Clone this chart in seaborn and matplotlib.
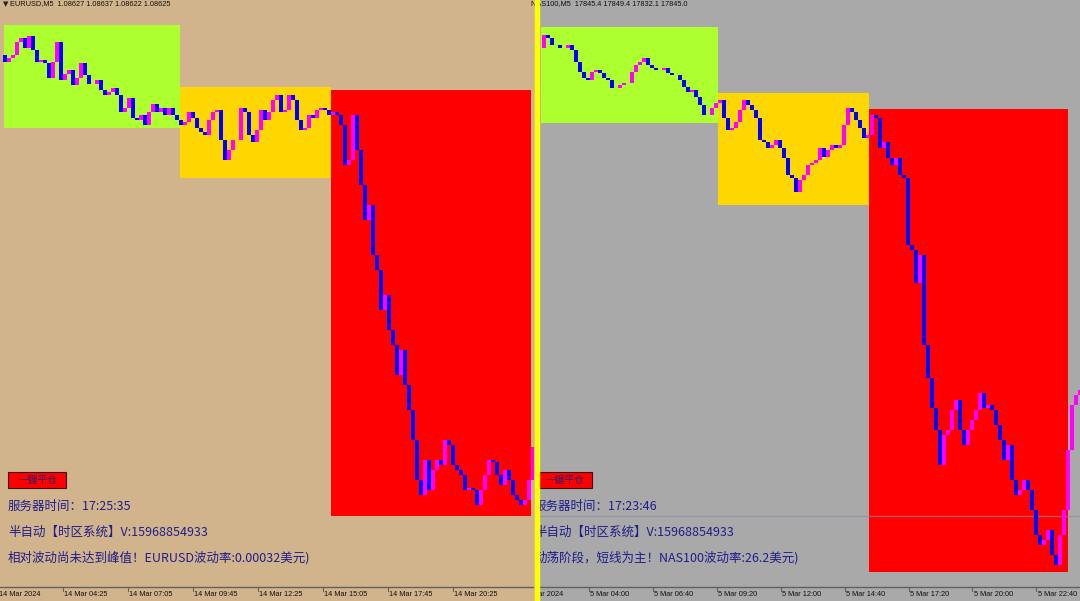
import numpy as np
import seaborn as sns
import matplotlib.pyplot as plt
from matplotlib.patches import Rectangle
from matplotlib.transforms import blended_transform_factory

sns.set_theme(style='white')
plt.rcParams['font.family'] = ['Noto Sans CJK SC', 'DejaVu Sans']

# EURUSD M5 closes (one value per candle)
eur_close = [1.09410, 1.09396, 1.09404, 1.09410, 1.09436, 1.09444, 1.09424, 1.09448, 1.09420, 1.09396,
             1.09400, 1.09394, 1.09364, 1.09396, 1.09436, 1.09360, 1.09372, 1.09380, 1.09350, 1.09364,
             1.09394, 1.09370, 1.09352, 1.09352, 1.09360, 1.09340, 1.09330, 1.09336, 1.09344, 1.09330,
             1.09296, 1.09304, 1.09324, 1.09284, 1.09280, 1.09290, 1.09270, 1.09296, 1.09312, 1.09296,
             1.09304, 1.09290, 1.09304, 1.09290, 1.09280, 1.09270,
             1.09276, 1.09296, 1.09284, 1.09264, 1.09256, 1.09250, 1.09280, 1.09296, 1.09300, 1.09240,
             1.09200, 1.09220, 1.09240, 1.09240, 1.09304, 1.09296, 1.09250, 1.09236, 1.09260, 1.09300,
             1.09280, 1.09296,
             1.09320, 1.09330, 1.09296, 1.09300, 1.09330, 1.09320, 1.09280, 1.09260, 1.09264, 1.09290,
             1.09284, 1.09300, 1.09304, 1.09300, 1.09290, 1.09296, 1.09290, 1.09270, 1.09190, 1.09200,
             1.09290, 1.09220, 1.09150, 1.09080, 1.09110, 1.09010, 1.08980, 1.08900, 1.08930, 1.08860,
             1.08830, 1.08770, 1.08820, 1.08750, 1.08700, 1.08640, 1.08560, 1.08530, 1.08600, 1.08540,
             1.08580, 1.08600, 1.08590, 1.08640, 1.08630, 1.08590, 1.08580, 1.08570, 1.08540, 1.08544,
             1.08540, 1.08510, 1.08540, 1.08570, 1.08600, 1.08596, 1.08570, 1.08550, 1.08580, 1.08560,
             1.08530, 1.08520, 1.08510, 1.08520, 1.08560, 1.08625]

# NAS100 M5 closes
nas_close = [18187, 18200, 18197, 18190, 18190, 18187, 18187, 18190, 18185, 18173,
             18163, 18157, 18155, 18163, 18165, 18162, 18157, 18155, 18147, 18147,
             18150, 18152, 18152, 18163, 18170, 18173, 18177, 18170, 18167, 18165,
             18165, 18167, 18162, 18160, 18160, 18155, 18148, 18143, 18145, 18138,
             18130, 18120, 18120, 18127, 18132, 18135, 18117, 18105, 18107, 18113,
             18125, 18135, 18130, 18125, 18117, 18095, 18093, 18087, 18090, 18095,
             18087, 18077, 18060, 18057, 18043, 18055, 18060, 18070, 18072, 18075,
             18087, 18078, 18085, 18090, 18087, 18090, 18110, 18127, 18123, 18115,
             18107, 18097, 18100, 18120, 18117, 18087, 18093, 18077, 18070, 18077,
             18060, 18057, 17990, 17985, 17952, 17980, 17890, 17857, 17827, 17805,
             17770, 17800, 17805, 17825, 17835, 17805, 17790, 17805, 17815, 17825,
             17842, 17827, 17830, 17825, 17810, 17795, 17775, 17790, 17755, 17740,
             17745, 17755, 17745, 17725, 17700, 17690, 17695, 17705, 17680, 17670,
             17700, 17725, 17785, 17830, 17840, 17845]

# time-zone boxes: start bar, end bar, top price, bottom price
eur_zone_start = [0.75, 44.75, 82.5]
eur_zone_end = [44.75, 82.5, 132.5]
eur_zone_top = [1.09470, 1.09346, 1.09340]
eur_zone_bot = [1.09264, 1.09164, 1.08488]
nas_zone_start = [0.25, 44.5, 82.25]
nas_zone_end = [44.5, 82.25, 132.0]
nas_zone_top = [18208, 18142, 18126]
nas_zone_bot = [18112, 18030, 17663]
zone_colors = ['#ADFF2F', '#FFD700', '#FF0000']

eur_times = ['14 Mar 2024', '14 Mar 04:25', '14 Mar 07:05', '14 Mar 09:45', '14 Mar 12:25',
             '14 Mar 15:05', '14 Mar 17:45', '14 Mar 20:25']
nas_times = ['5 Mar 2024', '5 Mar 04:00', '5 Mar 06:40', '5 Mar 09:20', '5 Mar 12:00',
             '5 Mar 14:40', '5 Mar 17:20', '5 Mar 20:00', '5 Mar 22:40']

eur_title = 'EURUSD,M5  1.08627 1.08637 1.08622 1.08625'
nas_title = 'NAS100,M5  17845.4 17849.4 17832.1 17845.0'
eur_info = ['服务器时间：17:25:35', '半自动【时区系统】V:15968854933',
            '相对波动尚未达到峰值！EURUSD波动率:0.00032美元)']
nas_info = ['服务器时间：17:23:46', '半自动【时区系统】V:15968854933',
            '动荡阶段，短线为主！NAS100波动率:26.2美元)']
nas_level = 17719

W, H = 1080, 601
TAN, GRAY = '#D2B48C', '#A9A9A9'
TXT = '#1E1E8C'
small_font = ['Liberation Sans', 'DejaVu Sans']

fig = plt.figure(figsize=(W / 100, H / 100), dpi=100, facecolor=TAN)
fig.patches.append(Rectangle((538 / W, 0), 1 - 538 / W, 1, transform=fig.transFigure,
                             color=GRAY, zorder=-5))


def fy(py):
    return 1 - py / H


def draw_panel(left_px, width_px, bg, closes, xlim, ylim, z_start, z_end, z_top, z_bot,
               times, tick0, tick_step, info, info_x, btn_x, level=None):
    ax = fig.add_axes([left_px / W, 0, width_px / W, 1])
    ax.set_facecolor(bg)
    ax.set_xlim(*xlim)
    ax.set_ylim(*ylim)
    ax.set_xticks([])
    ax.set_yticks([])
    for s in ax.spines.values():
        s.set_visible(False)

    for i in range(len(z_start)):
        ax.add_patch(Rectangle((z_start[i], z_bot[i]), z_end[i] - z_start[i], z_top[i] - z_bot[i],
                               facecolor=zone_colors[i], edgecolor='none', zorder=1))
    if level is not None:
        ax.axhline(level, color='#8A8AA8', lw=1, alpha=0.6, zorder=1.5)

    c = np.array(closes, dtype=float)
    o = np.r_[c[0], c[:-1]]
    x = np.arange(len(c))
    cols = np.where(c >= o, '#FF00FF', '#0000FF')
    ax.bar(x, c - o, bottom=o, width=0.8, color=cols, linewidth=0, zorder=2)

    # time scale strip
    bt = blended_transform_factory(ax.transData, ax.transAxes)
    ax.plot([0, 1], [fy(587), fy(587)], transform=ax.transAxes, color='#606060', lw=1, zorder=3)
    for k, lab in enumerate(times):
        tx = tick0 + tick_step * k
        ax.plot([tx, tx], [fy(587), fy(591)], transform=bt, color='#606060', lw=0.8, zorder=3)
        ax.text(tx + 0.3, fy(595), lab, transform=bt, fontsize=5.3, family=small_font,
                color='#111111', ha='left', va='center', zorder=3, clip_on=True)

    # button and info text
    ax.add_patch(Rectangle(((btn_x[0] - left_px) / width_px, fy(488)), (btn_x[1] - btn_x[0]) / width_px,
                           16 / H, transform=ax.transAxes, facecolor='#FF0000', edgecolor='#3A1010',
                           lw=0.8, zorder=4))
    ax.text(((btn_x[0] + btn_x[1]) / 2 + 1 - left_px) / width_px, fy(480), '一键平仓',
            transform=ax.transAxes, fontsize=7, color='#1E1E6E', ha='center', va='center', zorder=5,
            clip_on=True)
    for k, line in enumerate(info):
        ax.text((info_x - left_px) / width_px, fy(506 + 26 * k), line, transform=ax.transAxes,
                fontsize=9, color=TXT, ha='left', va='center', zorder=5, clip_on=True)
    return ax


draw_panel(0, 534, TAN, eur_close, (-0.25, 133.25), (1.09520 - 0.00002 * H, 1.09520),
           eur_zone_start, eur_zone_end, eur_zone_top, eur_zone_bot,
           eur_times, -0.75, 16.25, eur_info, 8, (8, 66))
draw_panel(538, 542, GRAY, nas_close, (-0.5, 135.0), (18235 - H, 18235),
           nas_zone_start, nas_zone_end, nas_zone_top, nas_zone_bot,
           nas_times, -3.75, 15.98, nas_info, 534, (536, 592), level=nas_level)

# chart headers
fig.text(3 / W, fy(4), '▼', fontsize=5, family='DejaVu Sans', color='#202020', va='center')
fig.text(10 / W, fy(4), eur_title, fontsize=5.3, family=small_font, color='#111111', va='center')
fig.text(531 / W, fy(4), nas_title, fontsize=5.3, family=small_font, color='#111111', va='center')

# yellow separator between the two charts
fig.patches.append(Rectangle((535 / W, 0), 3.5 / W, 1, transform=fig.transFigure,
                             color='#FFFF00', zorder=10))

fig.savefig('out.png', dpi=100, facecolor=fig.get_facecolor())
